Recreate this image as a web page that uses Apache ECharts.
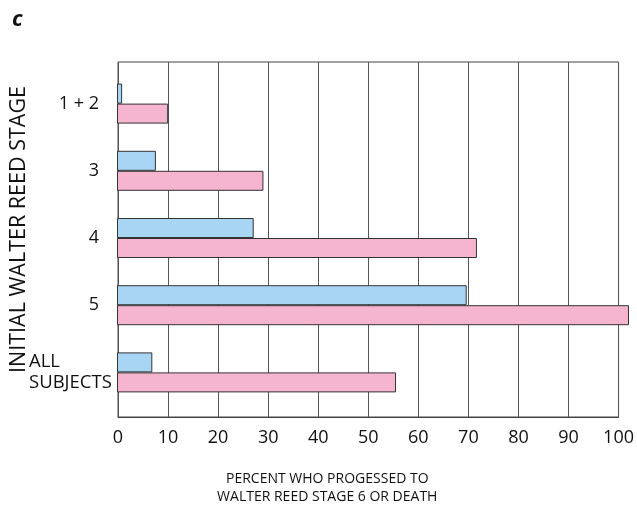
<!DOCTYPE html>
<html>
<head>
<meta charset="utf-8">
<script src="https://cdn.jsdelivr.net/npm/echarts@6/dist/echarts.min.js"></script>
<style>
  html, body { margin: 0; padding: 0; background: #fff; }
  #chart { width: 637px; height: 511px; }
</style>
</head>
<body>
<div id="chart"></div>
<script>
  var stages = ['1 + 2', '3', '4', '5', 'ALL SUBJECTS'];
  var blueValues = [1, 7.6, 26.7, 68.3, 6.9];
  var pinkValues = [10, 28.6, 70.3, 100, 54.5];
  var xTicks = [0, 10, 20, 30, 40, 50, 60, 70, 80, 90, 100];

  var font = 'Open Sans';
  var chart = echarts.init(document.getElementById('chart'), null, { renderer: 'canvas' });

  var option = {
    backgroundColor: '#ffffff',
    animation: false,
    title: {
      text: 'c',
      left: 7,
      top: 4,
      textStyle: { fontFamily: font, fontStyle: 'italic', fontWeight: 'bold', fontSize: 22, color: '#111' }
    },
    grid: [
      { left: 117, right: 8, top: 62, bottom: 93, show: true, borderColor: '#444', borderWidth: 1, containLabel: false },
      { left: 117, right: 8, top: 70, bottom: 105, containLabel: false }
    ],
    xAxis: [
      {
        gridIndex: 0,
        type: 'value',
        min: 0,
        max: 100,
        interval: 10,
        axisLine: { show: true, lineStyle: { color: '#444' } },
        axisTick: { show: false },
        splitLine: { show: true, lineStyle: { color: '#555', width: 1 } },
        axisLabel: {
          margin: 12,
          fontFamily: font,
          fontSize: 18,
          color: '#111',
          formatter: function (v) { return xTicks.indexOf(v) >= 0 ? String(v) : ''; }
        },
        name: 'PERCENT WHO PROGESSED TO\nWALTER REED STAGE 6 OR DEATH',
        nameLocation: 'middle',
        nameGap: 53,
        nameTextStyle: {
          fontFamily: font,
          fontSize: 14,
          color: '#111',
          lineHeight: 18,
          verticalAlign: 'top',
          padding: [0, 82, 0, 0]
        }
      },
      {
        gridIndex: 1,
        type: 'value',
        min: 0,
        max: 100,
        show: false
      }
    ],
    yAxis: [
      {
        gridIndex: 0,
        type: 'value',
        axisLine: { show: false },
        axisTick: { show: false },
        axisLabel: { show: false },
        splitLine: { show: false },
        name: 'INITIAL WALTER REED STAGE',
        nameLocation: 'middle',
        nameGap: 88,
        nameTextStyle: {
          fontFamily: font,
          fontSize: 21.5,
          color: '#111',
          padding: [0, 0, 0, 20]
        }
      },
      {
        gridIndex: 1,
        type: 'category',
        inverse: true,
        data: stages,
        axisLine: { show: false },
        axisTick: { show: false },
        splitLine: { show: false },
        axisLabel: {
          margin: 2,
          fontFamily: font,
          fontSize: 18,
          color: '#111',
          formatter: function (v) {
            if (v === 'ALL SUBJECTS') return '{a|ALL}\n{a|SUBJECTS}';
            return '{n|' + v + '}';
          },
          rich: {
            n: { fontFamily: font, fontSize: 18, color: '#111', padding: [0, 16, 0, 0] },
            a: { fontFamily: font, fontSize: 18.5, color: '#111', width: 86, align: 'left', lineHeight: 21 }
          }
        }
      }
    ],
    series: [
      {
        type: 'bar',
        xAxisIndex: 1,
        yAxisIndex: 1,
        data: blueValues,
        barWidth: 20,
        barGap: '0%',
        itemStyle: { color: '#a9d5f5', borderColor: '#333', borderWidth: 1 }
      },
      {
        type: 'bar',
        xAxisIndex: 1,
        yAxisIndex: 1,
        data: pinkValues,
        barWidth: 20,
        barGap: '0%',
        itemStyle: { color: '#f6b5cf', borderColor: '#333', borderWidth: 1 }
      }
    ]
  };

  chart.setOption(option);
</script>
</body>
</html>
